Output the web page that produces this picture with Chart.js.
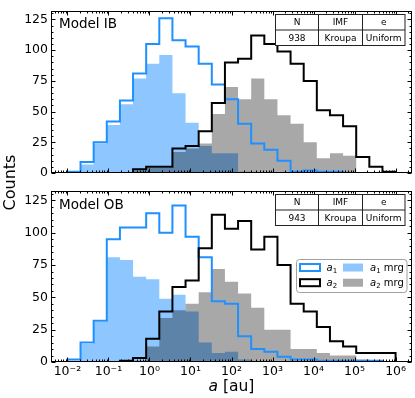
<!DOCTYPE html>
<html><head><meta charset="utf-8">
<script src="https://cdn.jsdelivr.net/npm/chart.js@4.4.1/dist/chart.umd.min.js"></script>
<style>
html,body{margin:0;padding:0;background:#fff;}
#wrap{position:relative;width:415px;height:398px;overflow:hidden;}
canvas{position:absolute;left:0;top:0;}
</style></head><body>
<div id="wrap"><canvas id="cTop" width="415" height="398"></canvas><canvas id="cBot" width="415" height="398"></canvas></div>
<script>
// ---- data ----
// bin edges (log10 of a in au)
const binEdgeExp = [-2, -1.68, -1.36, -1.04, -0.72, -0.4, -0.08, 0.24, 0.56, 0.88, 1.2, 1.52, 1.84,
  2.16, 2.48, 2.8, 3.12, 3.44, 3.76, 4.08, 4.4, 4.72, 5.04, 5.36, 5.68, 6];
const xTickValues = [1e-2, 1e-1, 1, 10, 100, 1e3, 1e4, 1e5, 1e6];
const xTickLabels = ['10⁻²', '10⁻¹', '10⁰', '10¹', '10²', '10³', '10⁴', '10⁵', '10⁶'];
const yTickStep = 25;
const panelNames = ['Model IB', 'Model OB'];
const tableHeader = ['N', 'IMF', 'e'];
const tableRows = [['938', 'Kroupa', 'Uniform'], ['943', 'Kroupa', 'Uniform']];
const legendLabels = ['a₁', 'a₂', 'a₁ mrg', 'a₂ mrg'];

// Model IB
const ibA1    = [1, 9, 25, 42, 59, 81, 105, 126, 108, 103, 89, 72, 60, 40, 24, 19, 10, 1, 2, 1, 1, 0, 0, 0, 0];
const ibA1mrg = [0, 7, 24, 39, 56, 77, 89, 96, 65, 41, 22, 16, 16, 1, 0, 0, 0, 0, 0, 0, 0, 0, 0, 0, 0];
const ibA2    = [0, 0, 0, 0, 0, 3, 5, 5, 20, 22, 34, 57, 90, 93, 112, 105, 99, 89, 75, 51, 47, 38, 13, 5, 1];
const ibA2mrg = [0, 0, 0, 0, 0, 2, 4, 4, 17, 20, 24, 48, 70, 60, 77, 60, 47, 40, 25, 12, 16, 14, 0, 0, 0];
// Model OB
const obA1    = [2, 15, 32, 95, 104, 104, 115, 100, 121, 97, 81, 47, 45, 20, 10, 8, 4, 2, 2, 1, 1, 1, 1, 1, 0];
const obA1mrg = [1, 14, 31, 81, 79, 66, 64, 49, 52, 39, 15, 7, 8, 2, 0, 0, 0, 0, 0, 0, 0, 0, 0, 0, 0];
const obA2    = [0, 0, 0, 0, 1, 3, 18, 39, 58, 63, 88, 114, 103, 109, 87, 97, 75, 45, 39, 27, 16, 12, 7, 7, 7];
const obA2mrg = [0, 0, 0, 0, 0, 1, 12, 34, 40, 45, 54, 72, 62, 53, 42, 25, 25, 10, 10, 7, 5, 5, 2, 0, 0];

// ---- styling ----
const FONT = '"DejaVu Sans", "Liberation Sans", sans-serif';
const BLUE = '#1E90FF';
const BLUE_FILL = 'rgba(30,144,255,0.5)';
const GRAY_FILL = 'rgba(0,0,0,0.34)';
const X_MIN = Math.pow(10, -2.4), X_MAX = Math.pow(10, 6.4), Y_MAX = 132.3;

const binEdges = binEdgeExp.map(e => Math.pow(10, e));
function histPath(vals) {
  const pts = [{x: binEdges[0], y: 0}];
  vals.forEach((v, i) => { pts.push({x: binEdges[i], y: v}); pts.push({x: binEdges[i + 1], y: v}); });
  pts.push({x: binEdges[vals.length], y: 0});
  return pts;
}

function drawMathLabel(ctx, x, y, size, sub, rest, align) {
  const subSize = size * 0.7;
  ctx.font = 'italic ' + size + 'px ' + FONT;
  const wa = ctx.measureText('a').width;
  ctx.font = subSize + 'px ' + FONT;
  const ws = sub ? ctx.measureText(sub).width : 0;
  ctx.font = size + 'px ' + FONT;
  const wr = rest ? ctx.measureText(rest).width : 0;
  const total = wa + ws + wr;
  let sx = align === 'center' ? x - total / 2 : x;
  ctx.textAlign = 'left'; ctx.textBaseline = 'alphabetic'; ctx.fillStyle = '#000';
  ctx.font = 'italic ' + size + 'px ' + FONT; ctx.fillText('a', sx, y); sx += wa;
  if (sub) { ctx.font = subSize + 'px ' + FONT; ctx.fillText(sub, sx, y + size * 0.22); sx += ws; }
  if (rest) { ctx.font = size + 'px ' + FONT; ctx.fillText(rest, sx, y); }
}

function decoPlugin(idx) {
  return {
    id: 'deco' + idx,
    afterDraw(chart) {
      const {ctx, chartArea: a, scales: {x, y}} = chart;
      ctx.save();
      ctx.strokeStyle = '#000'; ctx.lineWidth = 1;
      const L = Math.round(a.left) + 0.5, R = Math.round(a.right) - 0.5;
      const T = Math.round(a.top) + 0.5, B = Math.round(a.bottom) - 0.5;
      ctx.beginPath();
      for (let v = 0; v <= Y_MAX; v += 5) {
        const py = Math.round(y.getPixelForValue(v)) + 0.5;
        const len = v % yTickStep === 0 ? 4 : 2;
        ctx.moveTo(L, py); ctx.lineTo(L + len, py);
        ctx.moveTo(R, py); ctx.lineTo(R - len, py);
      }
      for (let k = -3; k <= 6; k++) for (let m = 1; m <= 9; m++) {
        const v = m * Math.pow(10, k);
        if (v < X_MIN || v > X_MAX) continue;
        const px = Math.round(x.getPixelForValue(v)) + 0.5;
        const len = m === 1 ? 4 : 2;
        ctx.moveTo(px, B); ctx.lineTo(px, B - len);
        ctx.moveTo(px, T); ctx.lineTo(px, T + len);
      }
      ctx.stroke();
      ctx.strokeRect(L, T, R - L, B - T);

      // panel name
      ctx.fillStyle = '#000';
      ctx.font = '13.5px ' + FONT; ctx.textAlign = 'left'; ctx.textBaseline = 'alphabetic';
      ctx.fillText(panelNames[idx], a.left + 8, a.top + 17.5);

      // table
      const tx = 275.5, tw = 129.5, ty = Math.round(a.top) + 3.5, rh = 15.5;
      const cols = [tx, 318.5, 362.5, tx + tw];
      ctx.strokeStyle = '#222'; ctx.lineWidth = 1;
      ctx.fillStyle = '#fff'; ctx.fillRect(tx, ty, tw, rh * 2);
      ctx.strokeRect(tx, ty, tw, rh * 2);
      ctx.beginPath();
      ctx.moveTo(tx, ty + rh); ctx.lineTo(tx + tw, ty + rh);
      ctx.moveTo(cols[1], ty); ctx.lineTo(cols[1], ty + 2 * rh);
      ctx.moveTo(cols[2], ty); ctx.lineTo(cols[2], ty + 2 * rh);
      ctx.stroke();
      ctx.fillStyle = '#000'; ctx.font = '9px ' + FONT; ctx.textAlign = 'center'; ctx.textBaseline = 'middle';
      for (let c = 0; c < 3; c++) {
        const cx = (cols[c] + cols[c + 1]) / 2;
        ctx.fillText(tableHeader[c], cx, ty + rh / 2 + 0.5);
        ctx.fillText(tableRows[idx][c], cx, ty + rh * 1.5 + 0.5);
      }

      if (idx === 1) {
        // legend
        ctx.fillStyle = 'rgba(255,255,255,0.8)';
        ctx.strokeStyle = '#a0a0a0'; ctx.lineWidth = 1;
        ctx.beginPath();
        if (ctx.roundRect) ctx.roundRect(296.5, 259.5, 110.5, 33, 3); else ctx.rect(296.5, 259.5, 110.5, 33);
        ctx.fill(); ctx.stroke();
        const rows = [267.5, 282.7];
        ctx.lineWidth = 2;
        ctx.fillStyle = '#fff'; ctx.strokeStyle = BLUE;
        ctx.fillRect(300, rows[0] - 3.5, 20, 7); ctx.strokeRect(300, rows[0] - 3.5, 20, 7);
        ctx.strokeStyle = '#000';
        ctx.fillRect(300, rows[1] - 3.5, 20, 7); ctx.strokeRect(300, rows[1] - 3.5, 20, 7);
        ctx.fillStyle = BLUE_FILL; ctx.fillRect(343, rows[0] - 4, 20, 8);
        ctx.fillStyle = GRAY_FILL; ctx.fillRect(343, rows[1] - 4, 20, 8);
        const parts = legendLabels.map(s => { const m = s.match(/^a(.)(.*)$/); return {sub: m[1] === '₁' ? '1' : '2', rest: m[2]}; });
        drawMathLabel(ctx, 326.5, rows[0] + 3.5, 10, parts[0].sub, '', 'left');
        drawMathLabel(ctx, 326.5, rows[1] + 3.5, 10, parts[1].sub, '', 'left');
        drawMathLabel(ctx, 370, rows[0] + 3.5, 10, parts[2].sub, parts[2].rest, 'left');
        drawMathLabel(ctx, 370, rows[1] + 3.5, 10, parts[3].sub, parts[3].rest, 'left');

        // axis titles
        drawMathLabel(ctx, (a.left + a.right) / 2, 390.5, 15.5, '', ' [au]', 'center');
        ctx.save();
        ctx.translate(15, 182.5); ctx.rotate(-Math.PI / 2);
        ctx.fillStyle = '#000'; ctx.font = '16px ' + FONT; ctx.textAlign = 'center'; ctx.textBaseline = 'alphabetic';
        ctx.fillText('Counts', 0, 0);
        ctx.restore();
      }
      ctx.restore();
    }
  };
}

function makeChart(id, idx, d, top, bottom, showX) {
  return new Chart(document.getElementById(id), {
    type: 'line',
    data: { datasets: [
      {label: 'a2', data: histPath(d.a2), borderColor: '#000', borderWidth: 2, fill: false, order: 0, clip: 0},
      {label: 'a1', data: histPath(d.a1), borderColor: BLUE, borderWidth: 2, fill: false, order: 1, clip: 0},
      {label: 'a2 mrg', data: histPath(d.a2mrg), borderColor: 'rgba(0,0,0,0)', borderWidth: 0, backgroundColor: GRAY_FILL, fill: 'origin', order: 2, clip: 0},
      {label: 'a1 mrg', data: histPath(d.a1mrg), borderColor: 'rgba(0,0,0,0)', borderWidth: 0, backgroundColor: BLUE_FILL, fill: 'origin', order: 3, clip: 0}
    ]},
    options: {
      responsive: false, animation: false, devicePixelRatio: 1, events: [],
      layout: {autoPadding: false, padding: {left: 0, top: top, right: 3, bottom: 0}},
      elements: {point: {radius: 0, hoverRadius: 0}, line: {tension: 0, borderJoinStyle: 'miter'}},
      plugins: {legend: {display: false}, tooltip: {enabled: false}},
      scales: {
        x: {
          type: 'logarithmic', min: X_MIN, max: X_MAX,
          grid: {display: false, drawTicks: false}, border: {display: false},
          ticks: {display: showX, autoSkip: false, maxRotation: 0, minRotation: 0, padding: 2,
            color: '#000', font: {family: FONT, size: 12.5},
            callback: (v, i) => xTickLabels[i]},
          afterBuildTicks: s => { s.ticks = xTickValues.map(v => ({value: v})); },
          afterFit: s => { s.height = 398 - bottom; }
        },
        y: {
          type: 'linear', min: 0, max: Y_MAX,
          grid: {display: false, drawTicks: false}, border: {display: false},
          ticks: {stepSize: yTickStep, includeBounds: false, padding: 3, color: '#000', font: {family: FONT, size: 12.5}},
          afterFit: s => { s.width = 51; }
        }
      }
    },
    plugins: [decoPlugin(idx)]
  });
}

makeChart('cTop', 0, {a1: ibA1, a1mrg: ibA1mrg, a2: ibA2, a2mrg: ibA2mrg}, 3, 173, false);
makeChart('cBot', 1, {a1: obA1, a1mrg: obA1mrg, a2: obA2, a2mrg: obA2mrg}, 191, 362, true);
</script>
</body></html>
